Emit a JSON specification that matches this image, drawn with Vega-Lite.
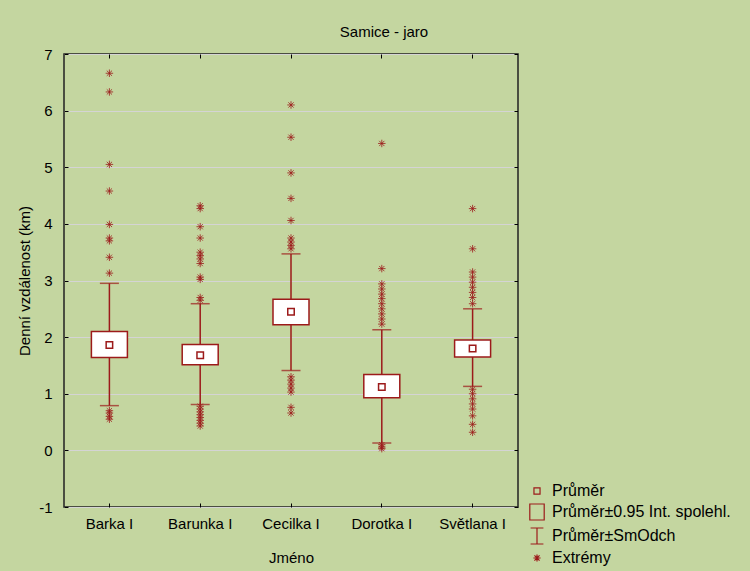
{
  "$schema": "https://vega.github.io/schema/vega-lite/v6.json",
  "width": 454,
  "height": 453,
  "autosize": "none",
  "padding": {"left": 64, "top": 54, "right": 232, "bottom": 64},
  "background": "#c4d6a0",
  "config": {
    "view": {"fill": "white", "stroke": "#222222", "strokeWidth": 1.5},
    "font": "Liberation Sans"
  },
  "title": {"text": "Samice - jaro", "fontSize": 15, "fontWeight": "normal", "color": "black", "anchor": "middle", "dx": 93, "offset": 7},
  "datasets": {
    "stats": [
      {"name": "Barka I", "mean": 1.86, "ciLo": 1.64, "ciHi": 2.10, "sdLo": 0.79, "sdHi": 2.95},
      {"name": "Barunka I", "mean": 1.68, "ciLo": 1.51, "ciHi": 1.87, "sdLo": 0.81, "sdHi": 2.59},
      {"name": "Cecilka I", "mean": 2.45, "ciLo": 2.22, "ciHi": 2.67, "sdLo": 1.41, "sdHi": 3.47},
      {"name": "Dorotka I", "mean": 1.12, "ciLo": 0.93, "ciHi": 1.34, "sdLo": 0.13, "sdHi": 2.13},
      {"name": "Světlana I", "mean": 1.80, "ciLo": 1.65, "ciHi": 1.95, "sdLo": 1.13, "sdHi": 2.50}
    ],
    "extremes": [
      {"name": "Barka I", "value": 6.66}, {"name": "Barka I", "value": 6.33}, {"name": "Barka I", "value": 5.05}, {"name": "Barka I", "value": 4.58}, {"name": "Barka I", "value": 3.99}, {"name": "Barka I", "value": 3.75}, {"name": "Barka I", "value": 3.70}, {"name": "Barka I", "value": 3.41}, {"name": "Barka I", "value": 3.13}, {"name": "Barka I", "value": 0.70}, {"name": "Barka I", "value": 0.66}, {"name": "Barka I", "value": 0.60}, {"name": "Barka I", "value": 0.55},
      {"name": "Barunka I", "value": 4.32}, {"name": "Barunka I", "value": 4.27}, {"name": "Barunka I", "value": 3.95}, {"name": "Barunka I", "value": 3.75}, {"name": "Barunka I", "value": 3.50}, {"name": "Barunka I", "value": 3.44}, {"name": "Barunka I", "value": 3.38}, {"name": "Barunka I", "value": 3.30}, {"name": "Barunka I", "value": 3.06}, {"name": "Barunka I", "value": 3.02}, {"name": "Barunka I", "value": 2.70}, {"name": "Barunka I", "value": 2.65}, {"name": "Barunka I", "value": 0.78}, {"name": "Barunka I", "value": 0.73}, {"name": "Barunka I", "value": 0.68}, {"name": "Barunka I", "value": 0.63}, {"name": "Barunka I", "value": 0.58}, {"name": "Barunka I", "value": 0.53}, {"name": "Barunka I", "value": 0.48}, {"name": "Barunka I", "value": 0.43},
      {"name": "Cecilka I", "value": 6.10}, {"name": "Cecilka I", "value": 5.53}, {"name": "Cecilka I", "value": 4.90}, {"name": "Cecilka I", "value": 4.45}, {"name": "Cecilka I", "value": 4.06}, {"name": "Cecilka I", "value": 3.75}, {"name": "Cecilka I", "value": 3.68}, {"name": "Cecilka I", "value": 3.62}, {"name": "Cecilka I", "value": 3.56}, {"name": "Cecilka I", "value": 1.30}, {"name": "Cecilka I", "value": 1.24}, {"name": "Cecilka I", "value": 1.17}, {"name": "Cecilka I", "value": 1.10}, {"name": "Cecilka I", "value": 1.03}, {"name": "Cecilka I", "value": 0.76}, {"name": "Cecilka I", "value": 0.66},
      {"name": "Dorotka I", "value": 5.42}, {"name": "Dorotka I", "value": 3.21}, {"name": "Dorotka I", "value": 2.94}, {"name": "Dorotka I", "value": 2.85}, {"name": "Dorotka I", "value": 2.76}, {"name": "Dorotka I", "value": 2.68}, {"name": "Dorotka I", "value": 2.59}, {"name": "Dorotka I", "value": 2.50}, {"name": "Dorotka I", "value": 2.41}, {"name": "Dorotka I", "value": 2.32}, {"name": "Dorotka I", "value": 2.23}, {"name": "Dorotka I", "value": 0.10}, {"name": "Dorotka I", "value": 0.06}, {"name": "Dorotka I", "value": 0.03},
      {"name": "Světlana I", "value": 4.27}, {"name": "Světlana I", "value": 3.56}, {"name": "Světlana I", "value": 3.15}, {"name": "Světlana I", "value": 3.06}, {"name": "Světlana I", "value": 2.97}, {"name": "Světlana I", "value": 2.88}, {"name": "Světlana I", "value": 2.79}, {"name": "Světlana I", "value": 2.70}, {"name": "Světlana I", "value": 2.59}, {"name": "Světlana I", "value": 1.08}, {"name": "Světlana I", "value": 1.00}, {"name": "Světlana I", "value": 0.91}, {"name": "Světlana I", "value": 0.82}, {"name": "Světlana I", "value": 0.73}, {"name": "Světlana I", "value": 0.61}, {"name": "Světlana I", "value": 0.46}, {"name": "Světlana I", "value": 0.32}
    ],
    "legend": [
      {"item": "Průměr"}, {"item": "Průměr±0.95 Int. spolehl."}, {"item": "Průměr±SmOdch"}, {"item": "Extrémy"}
    ]
  },
  "layer": [
    {
      "data": {"name": "stats"},
      "mark": {"type": "rule", "color": "#9c1a1a", "strokeWidth": 1.5},
      "encoding": {
        "x": {"field": "name", "type": "nominal",
          "scale": {"domain": ["Barka I", "Barunka I", "Cecilka I", "Dorotka I", "Světlana I"], "paddingInner": 0, "paddingOuter": 0},
          "axis": {"title": "Jméno", "orient": "bottom", "labelAngle": 0, "labelFontSize": 15, "titleFontSize": 15, "titleFontWeight": "normal", "labelColor": "black", "titleColor": "black", "domain": false, "grid": false, "tickSize": -4, "tickColor": "black", "labelPadding": 13, "titlePadding": 19}},
        "y": {"field": "sdLo", "type": "quantitative",
          "scale": {"domain": [-1, 7], "nice": false, "zero": false},
          "axis": {"title": "Denní vzdálenost (km)", "values": [-1, 0, 1, 2, 3, 4, 5, 6, 7], "labelExpr": "datum.value + ''", "grid": true, "gridColor": "#d4d4d4", "domain": false, "tickSize": -4, "tickColor": "black", "labelPadding": 16, "labelFontSize": 15, "titleFontSize": 15, "titleFontWeight": "normal", "titlePadding": 6, "labelColor": "black", "titleColor": "black"}},
        "y2": {"field": "sdHi"}
      }
    },
    {
      "data": {"name": "stats"},
      "mark": {"type": "bar", "size": 36, "fill": "white", "stroke": "#9c1a1a", "strokeWidth": 1.5},
      "encoding": {
        "x": {"field": "name", "type": "nominal", "axis": null},
        "y": {"field": "ciLo", "type": "quantitative", "axis": null},
        "y2": {"field": "ciHi"}
      }
    },
    {
      "data": {"name": "stats"},
      "mark": {"type": "point", "shape": "square", "filled": false, "size": 42, "color": "#9c1a1a", "strokeWidth": 1.5, "opacity": 1},
      "encoding": {
        "x": {"field": "name", "type": "nominal", "axis": {"orient": "top", "labels": false, "title": null, "domain": false, "grid": false, "tickSize": -4, "tickColor": "black"}},
        "y": {"field": "mean", "type": "quantitative", "axis": {"orient": "right", "labels": false, "title": null, "domain": false, "grid": false, "tickSize": -4, "tickColor": "black", "values": [-1, 0, 1, 2, 3, 4, 5, 6, 7]}}
      }
    },
    {
      "data": {"name": "stats"},
      "mark": {"type": "tick", "orient": "horizontal", "size": 19, "thickness": 1.5, "color": "#9c1a1a"},
      "encoding": {
        "x": {"field": "name", "type": "nominal", "axis": null},
        "y": {"field": "sdHi", "type": "quantitative", "axis": null}
      }
    },
    {
      "data": {"name": "stats"},
      "mark": {"type": "tick", "orient": "horizontal", "size": 19, "thickness": 1.5, "color": "#9c1a1a"},
      "encoding": {
        "x": {"field": "name", "type": "nominal", "axis": null},
        "y": {"field": "sdLo", "type": "quantitative", "axis": null}
      }
    },
    {
      "data": {"name": "extremes"},
      "mark": {"type": "point", "shape": "M-1,0H1M0,-1V1M-0.7,-0.7L0.7,0.7M-0.7,0.7L0.7,-0.7", "filled": false, "size": 56, "color": "#9c1a1a", "strokeWidth": 0.8, "opacity": 1},
      "encoding": {
        "x": {"field": "name", "type": "nominal", "axis": null},
        "y": {"field": "value", "type": "quantitative", "axis": null}
      }
    },
    {
      "data": {"name": "legend"},
      "mark": {"type": "point", "filled": false, "color": "#9c1a1a", "opacity": 0, "strokeWidth": 1.5},
      "encoding": {
        "shape": {"field": "item", "type": "nominal",
          "scale": {"domain": ["Průměr", "Průměr±0.95 Int. spolehl.", "Průměr±SmOdch", "Extrémy"],
            "range": ["M-0.38,-0.38H0.38V0.38H-0.38Z", "M-0.9,-1H0.9V1H-0.9Z", "M-0.8,-1H0.8M0,-1V1M-0.8,1H0.8", "M-0.45,0H0.45M0,-0.45V0.45M-0.32,-0.32L0.32,0.32M-0.32,0.32L0.32,-0.32"]},
          "legend": {"title": null, "orient": "none", "legendX": 464, "legendY": 428, "symbolSize": 256, "symbolStrokeWidth": 1.2, "symbolStrokeColor": "#9c1a1a", "symbolFillColor": "transparent", "labelFontSize": 16, "labelLimit": 0, "labelColor": "black", "labelOffset": 6, "rowPadding": 2, "padding": 0,
            "encode": {"symbols": {"update": {"opacity": {"value": 1}, "stroke": {"value": "#9c1a1a"}, "fill": {"value": "transparent"}}}}}
        }
      }
    }
  ],
  "resolve": {"axis": {"x": "independent", "y": "independent"}}
}
